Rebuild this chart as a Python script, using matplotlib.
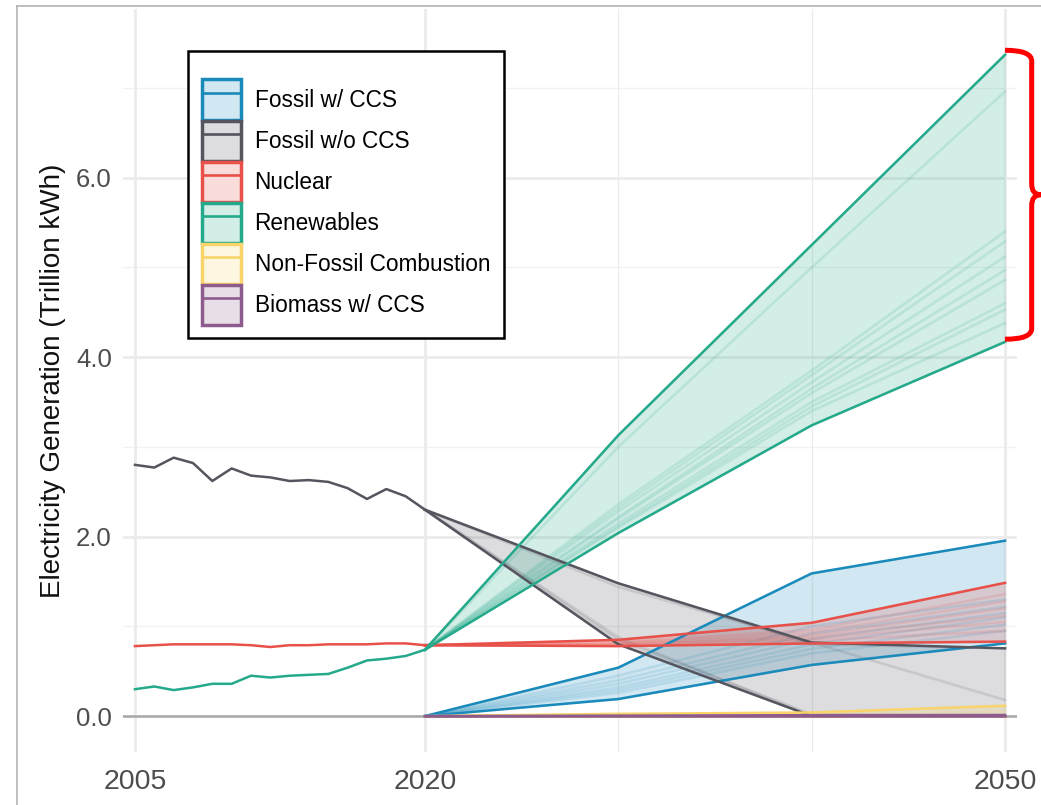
import numpy as np
import matplotlib
matplotlib.use("Agg")
import matplotlib.pyplot as plt
from matplotlib.patches import Patch, PathPatch
from matplotlib.lines import Line2D
from matplotlib.path import Path
from matplotlib.legend_handler import HandlerTuple

plt.rcParams['font.family'] = ['Liberation Sans', 'DejaVu Sans']

# ---------------- data ----------------
hist_years = list(range(2005, 2021))
hist_fossil_wo = [2.80, 2.77, 2.88, 2.82, 2.62, 2.76, 2.68, 2.66, 2.62, 2.63,
                  2.61, 2.54, 2.42, 2.53, 2.45, 2.30]
hist_nuclear = [0.78, 0.79, 0.80, 0.80, 0.80, 0.80, 0.79, 0.77, 0.79, 0.79,
                0.80, 0.80, 0.80, 0.81, 0.81, 0.79]
hist_renew = [0.30, 0.33, 0.29, 0.32, 0.36, 0.36, 0.45, 0.43, 0.45, 0.46,
              0.47, 0.54, 0.62, 0.64, 0.67, 0.74]

proj_years = [2020, 2030, 2040, 2050]

scen_fossil_ccs = [
    [0.0, 0.54, 1.59, 1.955],
    [0.0, 0.19, 0.57, 0.81],
    [0.0, 0.45, 1.00, 1.30],
    [0.0, 0.40, 0.92, 1.22],
    [0.0, 0.36, 0.86, 1.15],
    [0.0, 0.32, 0.80, 1.10],
    [0.0, 0.29, 0.75, 1.02],
    [0.0, 0.26, 0.70, 0.95],
]
scen_fossil_wo = [
    [2.30, 1.48, 0.80, 0.755],
    [2.30, 0.88, 0.00, 0.00],
    [2.30, 0.80, 0.00, 0.00],
    [2.30, 1.44, 0.82, 0.18],
    [2.30, 0.85, 0.02, 0.00],
]
scen_nuclear = [
    [0.79, 0.85, 1.04, 1.485],
    [0.79, 0.78, 0.81, 0.83],
    [0.79, 0.83, 0.96, 1.36],
    [0.79, 0.82, 0.93, 1.28],
    [0.79, 0.81, 0.90, 1.20],
    [0.79, 0.80, 0.88, 1.12],
    [0.79, 0.80, 0.86, 1.05],
    [0.79, 0.79, 0.84, 0.95],
]
scen_renew = [
    [0.74, 3.13, 5.25, 7.37],
    [0.74, 2.04, 3.24, 4.17],
    [0.74, 3.00, 5.00, 6.96],
    [0.74, 2.36, 3.85, 5.40],
    [0.74, 2.32, 3.80, 5.29],
    [0.74, 2.28, 3.72, 5.12],
    [0.74, 2.22, 3.65, 4.97],
    [0.74, 2.20, 3.60, 4.86],
    [0.74, 2.15, 3.50, 4.60],
    [0.74, 2.12, 3.45, 4.53],
    [0.74, 2.10, 3.40, 4.38],
]
scen_nonfossil = [
    [0.0, 0.025, 0.04, 0.115],
    [0.0, 0.00, 0.00, 0.00],
    [0.0, 0.015, 0.02, 0.05],
]
scen_biomass = [
    [0.0, 0.005, 0.01, 0.012],
    [0.0, 0.00, 0.00, 0.00],
]

labels = ["Fossil w/ CCS", "Fossil w/o CCS", "Nuclear", "Renewables",
          "Non-Fossil Combustion", "Biomass w/ CCS"]
colors = ["#1a8abb", "#55555f", "#e8504a", "#25a98b", "#f9d46a", "#8e5b8e"]
scenarios = [scen_fossil_ccs, scen_fossil_wo, scen_nuclear, scen_renew,
             scen_nonfossil, scen_biomass]
historic = {1: hist_fossil_wo, 2: hist_nuclear, 3: hist_renew}

x_ticks = [2005, 2020, 2050]
x_minor = [2030, 2040]
y_ticks = [0.0, 2.0, 4.0, 6.0]
y_minor = [1.0, 3.0, 5.0, 7.0]

# ---------------- figure ----------------
fig = plt.figure(figsize=(10.41, 8.05), dpi=100)
ax = fig.add_axes([123/1041, 1-752/805, (1017-123)/1041, (752-9)/805])
ax.set_xlim(2004.38, 2050.62)
ax.set_ylim(-0.40, 7.88)

for s in ax.spines.values():
    s.set_visible(False)
ax.set_xticks(x_ticks)
ax.set_yticks(y_ticks)
ax.set_yticklabels([f"{v:.1f}" for v in y_ticks])
ax.tick_params(length=0, colors="#4d4d4d")
ax.tick_params(axis='x', pad=12, labelsize=20.5)
ax.tick_params(axis='y', pad=8, labelsize=18.5)

for v in y_ticks:
    ax.axhline(v, color="#ebebeb", lw=2.0, zorder=0)
for v in y_minor:
    ax.axhline(v, color="#f2f2f2", lw=1.0, zorder=0)
for v in x_ticks:
    ax.axvline(v, color="#ebebeb", lw=2.0, zorder=0)
for v in x_minor:
    ax.axvline(v, color="#ebebeb", lw=0.8, zorder=0)
ax.axhline(0, color="#a8a8a8", lw=1.8, zorder=0.5)

yrs = np.array(proj_years)
for i, (sc, col) in enumerate(zip(scenarios, colors)):
    arr = np.array(sc)
    lo = arr.min(axis=0)
    hi = arr.max(axis=0)
    ax.fill_between(yrs, lo, hi, color=col, alpha=0.2, lw=0, zorder=1)
    for row in arr:
        ax.plot(yrs, row, color=col, alpha=0.15, lw=1.9, zorder=2)
    ax.plot(yrs, hi, color=col, lw=1.8, zorder=3)
    ax.plot(yrs, lo, color=col, lw=1.8, zorder=3)
    if i in historic:
        ax.plot(hist_years, historic[i], color=col, lw=1.8, zorder=3)

ax.set_ylabel("Electricity Generation (Trillion kWh)", fontsize=20,
              color="#111111", labelpad=7)

# legend
handles = []
for col in colors:
    p = Patch(facecolor=matplotlib.colors.to_rgba(col, 0.2), edgecolor=col, lw=2.5)
    l = Line2D([0], [0], color=col, lw=1.9)
    handles.append((p, l))
leg = ax.legend(handles, labels, handler_map={tuple: HandlerTuple(ndivide=1)},
                loc="upper left", bbox_to_anchor=(0.0727, 0.9435),
                borderaxespad=0, fontsize=16.3, frameon=True, fancybox=False,
                edgecolor="black", framealpha=1, handlelength=1.72,
                handleheight=2.35, labelspacing=0.04, handletextpad=0.62,
                borderpad=0.6, title=" ", title_fontsize=10)
leg.get_frame().set_linewidth(1.8)

# curly brace spanning renewables range in 2050
r_hi = max(r[-1] for r in scen_renew) + 0.05
r_lo = min(r[-1] for r in scen_renew) + 0.03
r_mid = (r_hi + r_lo) / 2
x0, x1, x2 = 2050.0, 2051.38, 2051.85
dy = 0.12
verts = [(x0, r_hi), (x1, r_hi), (x1, r_hi - dy),
         (x1, r_mid + dy),
         (x1, r_mid), (x2, r_mid),
         (x1, r_mid), (x1, r_mid - dy),
         (x1, r_lo + dy),
         (x1, r_lo), (x0, r_lo)]
codes = [Path.MOVETO, Path.CURVE3, Path.CURVE3,
         Path.LINETO,
         Path.CURVE3, Path.CURVE3,
         Path.CURVE3, Path.CURVE3,
         Path.LINETO,
         Path.CURVE3, Path.CURVE3]
brace = PathPatch(Path(verts, codes), facecolor="none", edgecolor="#ff0000",
                  lw=3.6, clip_on=False, zorder=5, capstyle='butt')
ax.add_patch(brace)

# outer frame (left & top edges)
fig.add_artist(Line2D([17/1041, 17/1041], [0, 1-6/805], color="#b3b3b3", lw=1.2))
fig.add_artist(Line2D([17/1041, 1], [1-6/805, 1-6/805], color="#b3b3b3", lw=1.2))

fig.savefig("out.png", dpi=100)
